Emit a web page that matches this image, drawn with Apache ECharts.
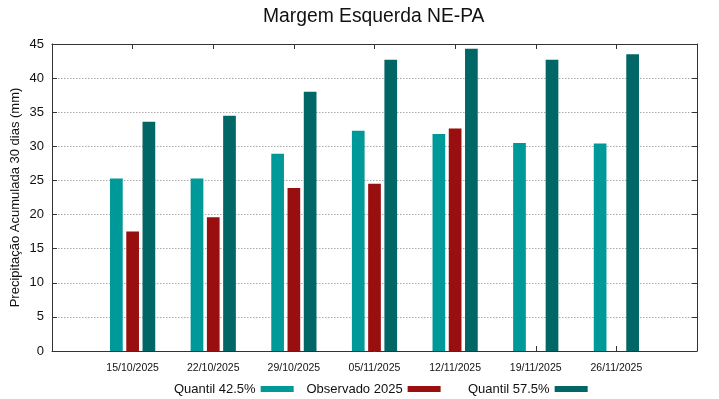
<!DOCTYPE html>
<html>
<head>
<meta charset="utf-8">
<script src="https://cdn.jsdelivr.net/npm/echarts@6/dist/echarts.min.js"></script>
<style>
html,body{margin:0;padding:0;background:#fff;}
#chart{width:719px;height:399px;}
</style>
</head>
<body>
<div id="chart"></div>
<script>
const categories = ['', '15/10/2025', '22/10/2025', '29/10/2025', '05/11/2025', '12/11/2025', '19/11/2025', '26/11/2025', ''];
const quantil425 = [null, 25.3, 25.3, 28.9, 32.3, 31.8, 30.5, 30.4, null];
const observado2025 = [null, 17.5, 19.6, 23.9, 24.5, 32.6, null, null, null];
const quantil575 = [null, 33.6, 34.5, 38.0, 42.7, 44.3, 42.7, 43.5, null];
const yTicks = [0, 5, 10, 15, 20, 25, 30, 35, 40, 45];
const seriesNames = ['Quantil 42.5%', 'Observado 2025', 'Quantil 57.5%'];
const colors = ['#009999', '#990e0e', '#006666'];

const chart = echarts.init(document.getElementById('chart'), null, {renderer: 'canvas'});
const FONT = 'Liberation Sans';
const axisLineStyle = {color: '#333', width: 1};

function legendFor(i, left) {
  return {
    data: [seriesNames[i]],
    left: left,
    top: 382.5,
    padding: 0,
    align: 'right',
    itemWidth: 33,
    itemHeight: 6,
    icon: 'rect',
    selectedMode: false,
    textStyle: {fontFamily: FONT, fontSize: 13, color: '#111'}
  };
}

chart.setOption({
  animation: false,
  backgroundColor: '#fff',
  title: {
    text: 'Margem Esquerda NE-PA',
    left: 263,
    top: 7,
    padding: [0, 0, 0, 0],
    textStyle: {fontFamily: FONT, fontSize: 19.3, fontWeight: 'normal', color: '#111'}
  },
  legend: [legendFor(0, 174), legendFor(1, 306.5), legendFor(2, 468)],
  grid: {left: 52, right: 22, top: 44, bottom: 48, containLabel: false, outerBoundsMode: 'none'},
  xAxis: [{
    type: 'category',
    data: categories,
    boundaryGap: false,
    axisLine: {onZero: false, lineStyle: axisLineStyle},
    axisTick: {inside: true, length: 5, lineStyle: axisLineStyle},
    axisLabel: {fontFamily: FONT, fontSize: 10.5, color: '#111', margin: 12, interval: 0},
    splitLine: {show: false}
  }, {
    type: 'category',
    data: categories,
    boundaryGap: false,
    position: 'top',
    axisLine: {onZero: false, lineStyle: axisLineStyle},
    axisTick: {inside: true, length: 5, lineStyle: axisLineStyle},
    axisLabel: {show: false},
    splitLine: {show: false}
  }],
  yAxis: [{
    type: 'value',
    min: yTicks[0],
    max: yTicks[yTicks.length - 1],
    interval: 5,
    name: 'Precipitação Acumulada 30 dias (mm)',
    nameLocation: 'middle',
    nameGap: 30,
    nameMoveOverlap: false,
    nameTextStyle: {fontFamily: FONT, fontSize: 13, color: '#111'},
    axisLine: {show: true, onZero: false, lineStyle: axisLineStyle},
    axisTick: {show: true, inside: true, length: 5, lineStyle: axisLineStyle},
    axisLabel: {fontFamily: FONT, fontSize: 13, color: '#111', margin: 8},
    splitLine: {show: true, lineStyle: {color: '#aaa', type: [1.5, 1.5], width: 1}}
  }, {
    type: 'value',
    min: yTicks[0],
    max: yTicks[yTicks.length - 1],
    interval: 5,
    position: 'right',
    axisLine: {show: true, onZero: false, lineStyle: axisLineStyle},
    axisTick: {show: true, inside: true, length: 5, lineStyle: axisLineStyle},
    axisLabel: {show: false},
    splitLine: {show: false}
  }],
  series: [quantil425, observado2025, quantil575].map((d, i) => ({
    name: seriesNames[i],
    type: 'bar',
    data: d,
    barWidth: 12.7,
    barGap: '28%',
    itemStyle: {color: colors[i]},
    z: 3
  }))
});
</script>
</body>
</html>
